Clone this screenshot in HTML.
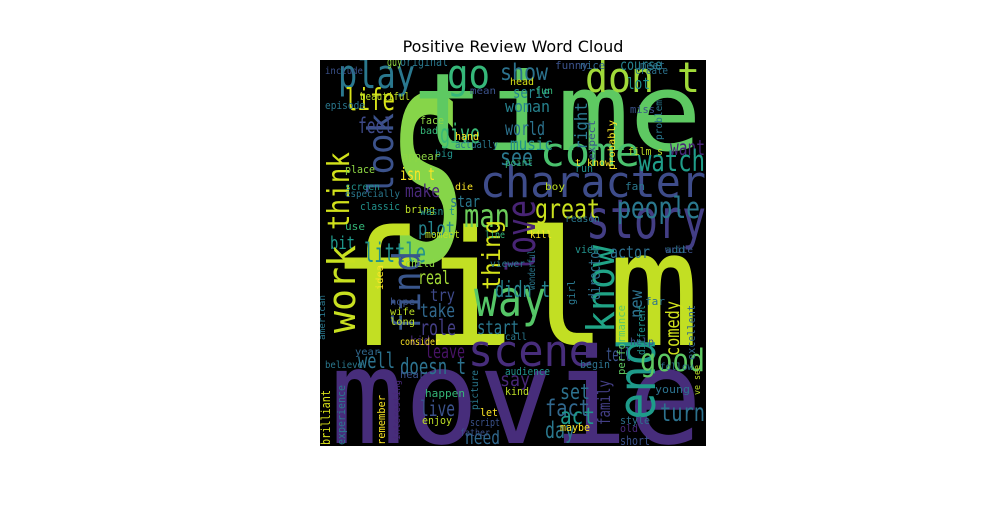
<!DOCTYPE html>
<html><head><meta charset="utf-8"><style>
body{margin:0;background:#fff;width:1000px;height:500px;overflow:hidden}
svg text{font-family:"DejaVu Sans Mono","Liberation Mono",monospace}
</style></head><body>
<svg width="1000" height="500">
<defs><clipPath id="cp"><rect x="320" y="60" width="386" height="386"/></clipPath></defs>
<text x="513" y="52" text-anchor="middle" style="font-family:'DejaVu Sans','Liberation Sans',sans-serif;font-size:16px">Positive Review Word Cloud</text>
<rect x="320" y="60" width="386" height="386" fill="#000"/>
<g id="cloud" clip-path="url(#cp)"></g>
</svg>
<script>
// [word, font size, x, baseline y, rotation, colour, extent]
const rows = [
["s",300,385,260,0,"#86d549",86],
["film",160,330,345,0,"#c2df23",370],
["movie",132,330,443,0,"#472d7b",372],
["time",108,412,150,0,"#5ec962",290],
["character",44,480,197,0,"#3e4c8a",226],
["story",54,586,238,0,"#433e85",120],
["come",40,540,166,0,"#4ac16d",100],
["don t",42,585,92,0,"#a0da39",115],
["play",40,338,88,0,"#2a788e",77],
["go",40,447,88,0,"#35b779",43],
["show",23,500,80,0,"#2c728e",48],
["course",15,620,70,0,"#26828e",42],
["life",30,345,110,0,"#d8e219",50],
["think",30,349,230,-90,"#d2e21b",78],
["look",36,393,195,-90,"#3b528b",82],
["give",27,440,143,0,"#3aba76",40],
["feel",21,358,133,0,"#3e4989",35],
["woman",16,505,112,0,"#26828e",45],
["world",19,505,135,0,"#2c728e",40],
["music",17,510,150,0,"#21918c",43],
["serie",16,513,98,0,"#25858e",37],
["right",17,587,150,-90,"#2a788e",48],
["want",21,670,155,0,"#482576",35],
["lot",16,627,89,0,"#21918c",23],
["see",23,500,165,0,"#2a788e",33],
["watch",29,638,171,0,"#1f9e89",67],
["isn t",17,400,180,0,"#fde725",35],
["make",18,405,197,0,"#482878",35],
["great",27,535,218,0,"#cae11f",65],
["people",29,617,218,0,"#2a788e",83],
["man",32,464,227,0,"#6ccd5a",46],
["star",16,450,207,0,"#2a788e",30],
["love",40,535,272,-90,"#482475",72],
["plot",19,418,235,0,"#25858e",37],
["bit",18,330,249,0,"#1f988b",25],
["little",27,364,262,0,"#21918c",62],
["thing",25,500,290,-90,"#d5e21a",70],
["work",38,355,333,-90,"#c8e020",88],
["find",38,420,333,-90,"#39568c",82],
["way",50,474,316,0,"#55c667",72],
["know",38,614,333,-90,"#20a486",88],
["director",16,600,300,-90,"#2c728e",55],
["actor",17,610,258,0,"#2d708e",40],
["real",19,418,284,0,"#a2da37",32],
["try",17,430,301,0,"#3e4989",25],
["didn t",22,495,297,0,"#25858e",55],
["take",19,420,317,0,"#31688e",35],
["role",21,420,335,0,"#433e85",36],
["start",19,477,334,0,"#2a788e",42],
["scene",44,468,366,0,"#472d7b",126],
["end",52,655,420,-90,"#1e9b8a",82],
["leave",19,425,358,0,"#471365",40],
["doesn t",22,400,374,0,"#2c728e",66],
["well",21,358,368,0,"#2c728e",37],
["good",31,640,371,0,"#5ec962",65],
["tell",19,606,361,0,"#3b528b",25],
["comedy",19,679,356,-90,"#d0e11c",55],
["new",17,642,318,-90,"#2c728e",28],
["say",19,500,386,0,"#482878",30],
["set",21,560,399,0,"#2c728e",30],
["fact",23,545,416,0,"#31688e",45],
["act",23,560,424,0,"#1f988b",35],
["day",23,545,438,0,"#2a788e",30],
["turn",25,660,421,0,"#2c728e",45],
["family",17,610,425,-90,"#433e85",45],
["live",21,420,416,0,"#3b528b",35],
["need",19,465,444,0,"#31688e",35],
["guy",12,387,66,0,"#8fd744",15],
["original",12,400,66,0,"#2a788e",48],
["funny",11,555,69,0,"#3b528b",33],
["nice",11,580,69,0,"#31688e",25],
["meet",11,640,69,0,"#2c728e",25],
["include",10,325,74,0,"#3b528b",38],
["create",11,635,74,0,"#2c728e",33],
["head",10,510,85,0,"#d8e219",24],
["mean",10,470,94,0,"#3b528b",26],
["beautiful",11,360,100,0,"#bddf26",50],
["fun",10,535,94,0,"#35b779",18],
["episode",11,325,109,0,"#2a788e",40],
["problem",10,662,140,-90,"#2a788e",40],
["miss",11,630,113,0,"#3b528b",25],
["face",11,420,124,0,"#8fd744",24],
["bad",10,420,134,0,"#35b779",18],
["hand",11,455,140,0,"#fde725",24],
["actually",11,455,148,0,"#2a788e",43],
["probably",10,615,170,-90,"#fde725",50],
["expect",10,595,160,-90,"#3b528b",40],
["film s",11,628,155,0,"#bddf26",35],
["big",10,435,157,0,"#21918c",18],
["appear",11,402,160,0,"#8fd744",38],
["point",10,505,166,0,"#35b779",28],
["t know",10,575,166,0,"#fde725",36],
["run",11,575,172,0,"#21918c",18],
["place",11,345,173,0,"#8fd744",30],
["screen",10,345,190,0,"#21918c",35],
["die",10,455,190,0,"#fde725",18],
["boy",10,545,190,0,"#bddf26",20],
["fan",11,625,190,0,"#2a788e",20],
["especially",10,345,197,0,"#2a788e",55],
["classic",11,360,210,0,"#21918c",40],
["bring",11,405,213,0,"#bddf26",30],
["wasn t",11,420,215,0,"#21918c",35],
["reason",10,565,222,0,"#2a788e",35],
["use",11,345,230,0,"#35b779",20],
["moment",11,425,238,0,"#bddf26",35],
["line",10,485,238,0,"#35b779",20],
["kill",10,530,238,0,"#fde725",22],
["view",11,575,253,0,"#21918c",24],
["add",10,665,253,0,"#2a788e",20],
["write",10,665,253,0,"#3b528b",28],
["child",11,405,267,0,"#8fd744",30],
["viewer",10,490,267,0,"#2a788e",35],
["wonderful",10,535,290,-90,"#2a788e",40],
["idea",10,383,290,-90,"#fde725",25],
["hope",10,390,305,0,"#3b528b",25],
["wife",10,390,315,0,"#bddf26",25],
["long",10,390,325,0,"#bddf26",25],
["girl",11,575,305,-90,"#2a788e",25],
["help",10,630,345,0,"#3b528b",24],
["far",11,645,305,0,"#2c728e",20],
["book",10,628,340,-90,"#bddf26",30],
["different",11,645,355,-90,"#21918c",50],
["performance",11,625,375,-90,"#5ec962",70],
["excellent",11,695,360,-90,"#31688e",55],
["kid",12,410,345,0,"#482878",20],
["call",10,505,340,0,"#2a788e",22],
["consider",10,400,345,0,"#fde725",40],
["american",9,325,340,-90,"#2a788e",45],
["year",10,355,355,0,"#31688e",25],
["believe",10,325,368,0,"#2a788e",38],
["begin",11,580,368,0,"#2c728e",30],
["follow",10,660,370,0,"#2c728e",33],
["audience",11,505,375,0,"#21918c",45],
["hear",11,400,378,0,"#3b528b",25],
["young",11,655,393,0,"#2c728e",35],
["picture",10,478,410,-90,"#2a788e",40],
["happen",11,425,397,0,"#35b779",40],
["kind",11,505,395,0,"#bddf26",24],
["brilliant",12,330,445,-90,"#d8e219",55],
["experience",11,345,445,-90,"#2a788e",60],
["interesting",10,400,440,-90,"#482878",60],
["remember",11,385,445,-90,"#fde725",50],
["enjoy",11,422,424,0,"#bddf26",30],
["script",11,470,426,0,"#3b528b",30],
["let",11,480,416,0,"#fde725",18],
["maybe",11,560,431,0,"#fde725",30],
["father",10,460,436,0,"#3b528b",30],
["style",11,620,424,0,"#2c728e",30],
["old",11,620,432,0,"#482878",18],
["short",12,620,445,0,"#3b528b",30],
["ve see",9,700,395,-90,"#bddf26",30]
];
const g = document.getElementById('cloud');
for (let i = 0; i < rows.length; i++) {
  const r = rows[i];
  const t = document.createElementNS('http://www.w3.org/2000/svg', 'text');
  t.setAttribute('x', r[2]);
  t.setAttribute('y', r[3]);
  t.setAttribute('font-size', r[1]);
  t.setAttribute('fill', r[5]);
  t.setAttribute('textLength', r[6]);
  t.setAttribute('lengthAdjust', 'spacingAndGlyphs');
  if (r[4]) t.setAttribute('transform', 'rotate(' + r[4] + ' ' + r[2] + ' ' + r[3] + ')');
  t.textContent = r[0];
  
  
  g.appendChild(t);
}
</script>
</body></html>
